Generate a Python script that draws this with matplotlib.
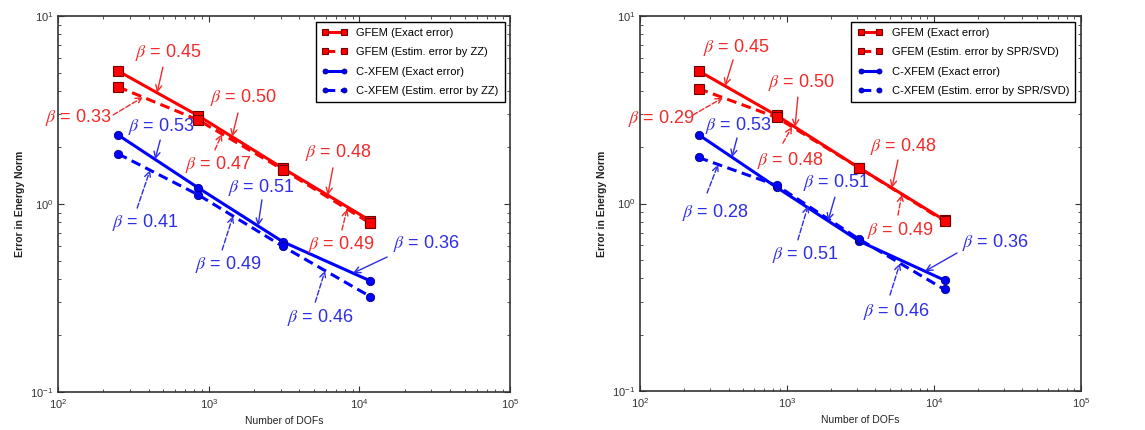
import numpy as np
import matplotlib.pyplot as plt

plt.rcParams['font.family'] = ['Liberation Sans', 'DejaVu Sans']
plt.rcParams['mathtext.fontset'] = 'stix'

# number of degrees of freedom for the 4 meshes
dofs = [250, 850, 3100, 11800]

# energy norm of the error
gfem_exact = [5.1, 2.95, 1.55, 0.815]
xfem_exact = [2.33, 1.22, 0.63, 0.39]
gfem_zz = [4.2, 2.80, 1.525, 0.79]
xfem_zz = [1.85, 1.12, 0.595, 0.322]
gfem_svd = [4.1, 2.88, 1.55, 0.805]
xfem_svd = [1.76, 1.25, 0.645, 0.348]

# convergence rates per segment
beta_gfem_exact = [0.45, 0.50, 0.48]
beta_xfem_exact = [0.53, 0.51, 0.36]
beta_gfem_zz = [0.33, 0.47, 0.49]
beta_xfem_zz = [0.41, 0.49, 0.46]
beta_gfem_svd = [0.29, 0.48, 0.49]
beta_xfem_svd = [0.28, 0.51, 0.46]

RED = '#ff0000'
BLUE = '#0000ff'
RED_T = '#f22a2a'
BLUE_T = '#2e2ee6'


def on_curve(x, ys):
    return 10 ** np.interp(np.log10(x), np.log10(dofs), np.log10(ys))


def draw(ax, est_red, est_blue, name):
    ax.loglog(dofs, gfem_exact, '-s', color=RED, lw=2.2, ms=7, mfc=RED, mec='#700000', mew=0.8,
              label='GFEM (Exact error)')
    ax.loglog(dofs, est_red, '--s', color=RED, lw=2.2, ms=7, mfc=RED, mec='#700000', mew=0.8,
              dashes=(3.2, 1.8), label='GFEM (Estim. error by %s)' % name)
    ax.loglog(dofs, xfem_exact, '-o', color=BLUE, lw=2.2, ms=6, mfc=BLUE, mec='#000080', mew=0.6,
              label='C-XFEM (Exact error)')
    ax.loglog(dofs, est_blue, '--o', color=BLUE, lw=2.2, ms=6, mfc=BLUE, mec='#000080', mew=0.6,
              dashes=(3.2, 1.8), label='C-XFEM (Estim. error by %s)' % name)
    ax.set_xlim(1e2, 1e5)
    ax.set_ylim(1e-1, 1e1)
    ax.set_xlabel('Number of DOFs', fontsize=7.5, color='#222222')
    ax.set_ylabel('Error in Energy Norm', fontsize=7.5, color='#222222', fontweight='bold')
    ax.tick_params(which='both', direction='in', top=True, right=True, labelsize=8,
                   color='#333333', labelcolor='#333333')
    ax.tick_params(which='major', length=4.5)
    ax.tick_params(which='minor', length=2.5)
    for s in ax.spines.values():
        s.set_linewidth(1.2)
        s.set_color('#333333')
    leg = ax.legend(loc='upper right', fontsize=8, fancybox=False, edgecolor='black', framealpha=1,
                    handlelength=2.3, numpoints=2, markerscale=0.6, borderaxespad=0.5,
                    labelspacing=0.85, borderpad=0.55, handletextpad=0.8)
    leg.get_frame().set_linewidth(1.0)


def annotate(ax, ys, betas, seg, hx, txt, tail, color, dashed):
    ax.annotate('', xy=(hx, on_curve(hx, ys)), xycoords='data', xytext=tail, textcoords='axes fraction',
                arrowprops=dict(arrowstyle='->', color=color, lw=1.0, linestyle='--' if dashed else '-',
                                shrinkA=0, shrinkB=0, mutation_scale=11))
    ax.text(txt[0], txt[1], r'$\beta$ = %.2f' % betas[seg], transform=ax.transAxes, color=color,
            fontsize=13, ha='left', va='center', clip_on=False)


fig = plt.figure(figsize=(11.45, 4.3), dpi=100)
ax1 = fig.add_axes([0.0507, 0.0884, 0.3948, 0.8744])
ax2 = fig.add_axes([0.559, 0.0907, 0.385, 0.872])

draw(ax1, gfem_zz, xfem_zz, 'ZZ')
draw(ax2, gfem_svd, xfem_svd, 'SPR/SVD')

# left panel: ZZ estimator
annotate(ax1, gfem_exact, beta_gfem_exact, 0, 454, (0.170, 0.902), (0.232, 0.864), RED_T, False)
annotate(ax1, gfem_exact, beta_gfem_exact, 1, 1429, (0.336, 0.782), (0.398, 0.742), RED_T, False)
annotate(ax1, gfem_exact, beta_gfem_exact, 2, 6165, (0.546, 0.636), (0.608, 0.596), RED_T, False)
annotate(ax1, gfem_zz, beta_gfem_zz, 0, 366, (-0.029, 0.731), (0.122, 0.737), RED_T, True)
annotate(ax1, gfem_zz, beta_gfem_zz, 1, 1225, (0.281, 0.604), (0.347, 0.644), RED_T, True)
annotate(ax1, gfem_zz, beta_gfem_zz, 2, 8280, (0.553, 0.391), (0.628, 0.431), RED_T, True)
annotate(ax1, xfem_exact, beta_xfem_exact, 0, 440, (0.155, 0.705), (0.226, 0.670), BLUE_T, False)
annotate(ax1, xfem_exact, beta_xfem_exact, 1, 2124, (0.376, 0.545), (0.451, 0.511), BLUE_T, False)
annotate(ax1, xfem_exact, beta_xfem_exact, 2, 9060, (0.741, 0.396), (0.728, 0.359), BLUE_T, False)
annotate(ax1, xfem_zz, beta_xfem_zz, 0, 408, (0.119, 0.452), (0.175, 0.489), BLUE_T, True)
annotate(ax1, xfem_zz, beta_xfem_zz, 1, 1449, (0.303, 0.338), (0.363, 0.378), BLUE_T, True)
annotate(ax1, xfem_zz, beta_xfem_zz, 2, 5915, (0.507, 0.197), (0.569, 0.239), BLUE_T, True)

# right panel: SPR/SVD estimator
annotate(ax2, gfem_exact, beta_gfem_exact, 0, 379, (0.143, 0.917), (0.211, 0.883), RED_T, False)
annotate(ax2, gfem_exact, beta_gfem_exact, 1, 1133, (0.290, 0.824), (0.358, 0.784), RED_T, False)
annotate(ax2, gfem_exact, beta_gfem_exact, 2, 5176, (0.522, 0.651), (0.585, 0.616), RED_T, False)
annotate(ax2, gfem_svd, beta_gfem_svd, 0, 367, (-0.027, 0.728), (0.120, 0.736), RED_T, True)
annotate(ax2, gfem_svd, beta_gfem_svd, 1, 1082, (0.265, 0.616), (0.324, 0.661), RED_T, True)
annotate(ax2, gfem_svd, beta_gfem_svd, 2, 6050, (0.515, 0.429), (0.585, 0.469), RED_T, True)
annotate(ax2, xfem_exact, beta_xfem_exact, 0, 422, (0.147, 0.709), (0.220, 0.675), BLUE_T, False)
annotate(ax2, xfem_exact, beta_xfem_exact, 1, 1901, (0.370, 0.557), (0.442, 0.517), BLUE_T, False)
annotate(ax2, xfem_exact, beta_xfem_exact, 2, 8690, (0.730, 0.397), (0.719, 0.368), BLUE_T, False)
annotate(ax2, xfem_svd, beta_xfem_svd, 0, 340, (0.095, 0.477), (0.152, 0.528), BLUE_T, True)
annotate(ax2, xfem_svd, beta_xfem_svd, 1, 1390, (0.299, 0.363), (0.358, 0.403), BLUE_T, True)
annotate(ax2, xfem_svd, beta_xfem_svd, 2, 5870, (0.506, 0.211), (0.567, 0.256), BLUE_T, True)

fig.savefig('out.png', dpi=100)
